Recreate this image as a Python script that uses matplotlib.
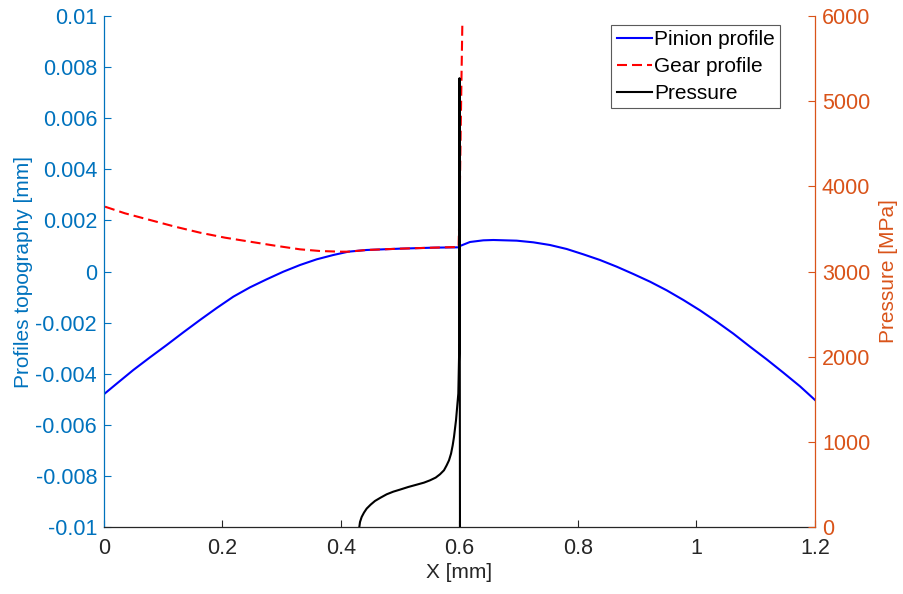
import numpy as np
import matplotlib
matplotlib.use("Agg")
import matplotlib.pyplot as plt
from matplotlib.ticker import FixedLocator

plt.rcParams["font.family"] = ["Liberation Sans", "DejaVu Sans"]
plt.rcParams["axes.unicode_minus"] = False

# pinion profile topography [mm]
pinion_x = [0.0017, 0.0214, 0.0495, 0.0776, 0.1058, 0.1339, 0.1620, 0.1902, 0.2183,
            0.2464, 0.2745, 0.3027, 0.3308, 0.3589, 0.3871, 0.4124, 0.4433, 0.4996,
            0.5558, 0.5980, 0.6008, 0.6177, 0.6402, 0.6571, 0.6965, 0.7246, 0.7527,
            0.7809, 0.8090, 0.8371, 0.8653, 0.8934, 0.9215, 0.9497, 0.9778, 1.0059,
            1.0340, 1.0622, 1.0903, 1.1184, 1.1466, 1.1747, 1.2]
pinion_y = [-0.004768, -0.00439, -0.003855, -0.00336, -0.002877, -0.002381, -0.001898,
            -0.001429, -0.000985, -0.000620, -0.000306, -0.000007, 0.000254, 0.000476,
            0.000646, 0.000776, 0.000842, 0.000894, 0.000933, 0.000946, 0.000998,
            0.001155, 0.001220, 0.001233, 0.001207, 0.001142, 0.001037, 0.000881,
            0.000672, 0.000450, 0.000189, -0.000098, -0.000398, -0.000737, -0.001115,
            -0.001520, -0.001964, -0.002433, -0.002942, -0.003438, -0.003960,
            -0.004494, -0.005029]

# gear profile topography [mm]
gear_x = [0.0017, 0.0354, 0.0776, 0.1198, 0.1620, 0.2042, 0.2464, 0.2886, 0.3308,
          0.3646, 0.3983, 0.4124, 0.4433, 0.4996, 0.5558, 0.5985, 0.6005, 0.602,
          0.6035, 0.6048]
gear_y = [0.002537, 0.002277, 0.002016, 0.001755, 0.001520, 0.001324, 0.001167,
          0.001011, 0.000868, 0.000802, 0.000776, 0.000776, 0.000842, 0.000894,
          0.000933, 0.00096, 0.0030, 0.0055, 0.0078, 0.0097]

# contact pressure [MPa]
press_x = [0.4309, 0.4321, 0.4349, 0.4388, 0.4433, 0.4501, 0.4574, 0.4669, 0.4771,
           0.4883, 0.4996, 0.5136, 0.5277, 0.5401, 0.5502, 0.5598, 0.5671, 0.5738,
           0.5783, 0.5823, 0.5857, 0.5885, 0.5907, 0.5924, 0.5941, 0.5980, 0.5997,
           0.5999, 0.6000, 0.6008]
press_p = [0, 59, 118, 169, 216, 263, 306, 345, 384, 415, 439, 470, 497, 521, 548,
           580, 619, 666, 724, 783, 861, 959, 1057, 1155, 1253, 1566, 2153, 3500,
           5270, 0]

blue_ax = "#0072BD"
orange_ax = "#D95319"
dark = "#262626"

fig = plt.figure(figsize=(9.04, 5.94), dpi=100)
ax = fig.add_axes([104 / 904, 1 - 527 / 594, 711 / 904, 511 / 594])
ax2 = ax.twinx()

l1, = ax.plot(pinion_x, pinion_y, color="blue", lw=1.5, label="Pinion profile")
l2, = ax.plot(gear_x, gear_y, color="red", lw=1.5, dashes=(4.8, 2.4), label="Gear profile")
l3, = ax2.plot(press_x, press_p, color="black", lw=1.5, label="Pressure")

ax.set_xlim(0, 1.2)
ax.set_ylim(-0.01, 0.01)
ax2.set_ylim(0, 6000)

xt = [0, 0.2, 0.4, 0.6, 0.8, 1.0, 1.2]
ax.xaxis.set_major_locator(FixedLocator(xt))
ax.set_xticklabels(["%g" % v for v in xt])
yt = [round(v, 3) for v in np.linspace(-0.01, 0.01, 11)]
ax.yaxis.set_major_locator(FixedLocator(yt))
ax.set_yticklabels(["%g" % (v + 0.0) for v in yt])
pt = [0, 1000, 2000, 3000, 4000, 5000, 6000]
ax2.yaxis.set_major_locator(FixedLocator(pt))
ax2.set_yticklabels([str(v) for v in pt])

for a in (ax, ax2):
    a.spines["top"].set_visible(False)
ax2.spines["left"].set_visible(False)
ax2.spines["bottom"].set_visible(False)
ax.spines["right"].set_visible(False)
ax.spines["left"].set_color(blue_ax)
ax.spines["bottom"].set_color(dark)
ax2.spines["right"].set_color(orange_ax)
for s in ("left", "bottom"):
    ax.spines[s].set_linewidth(0.9)
ax2.spines["right"].set_linewidth(0.9)

ax.tick_params(axis="x", direction="in", length=5, colors=dark, labelsize=15.5, pad=8)
ax.tick_params(axis="y", direction="in", length=5, colors=blue_ax, labelsize=15.5, pad=5)
ax2.tick_params(axis="y", direction="in", length=5, colors=orange_ax, labelsize=15.5, pad=5)

ax.set_xlabel("X [mm]", fontsize=15, color=dark, labelpad=3)
ax.set_ylabel("Profiles topography [mm]", fontsize=15, color=blue_ax, labelpad=2)
ax2.set_ylabel("Pressure [MPa]", fontsize=15, color=orange_ax, labelpad=6)

leg = ax2.legend(handles=[l1, l2, l3], loc="upper right",
                 bbox_to_anchor=(780 / 904, 1 - 25 / 594), bbox_transform=fig.transFigure,
                 borderaxespad=0, fontsize=15, fancybox=False, framealpha=1,
                 handlelength=1.7, handletextpad=0.1, labelspacing=0.38,
                 borderpad=0.25)
leg.get_frame().set_edgecolor("#5a5a5a")
leg.get_frame().set_linewidth(0.8)

fig.savefig("out.png", dpi=100)
